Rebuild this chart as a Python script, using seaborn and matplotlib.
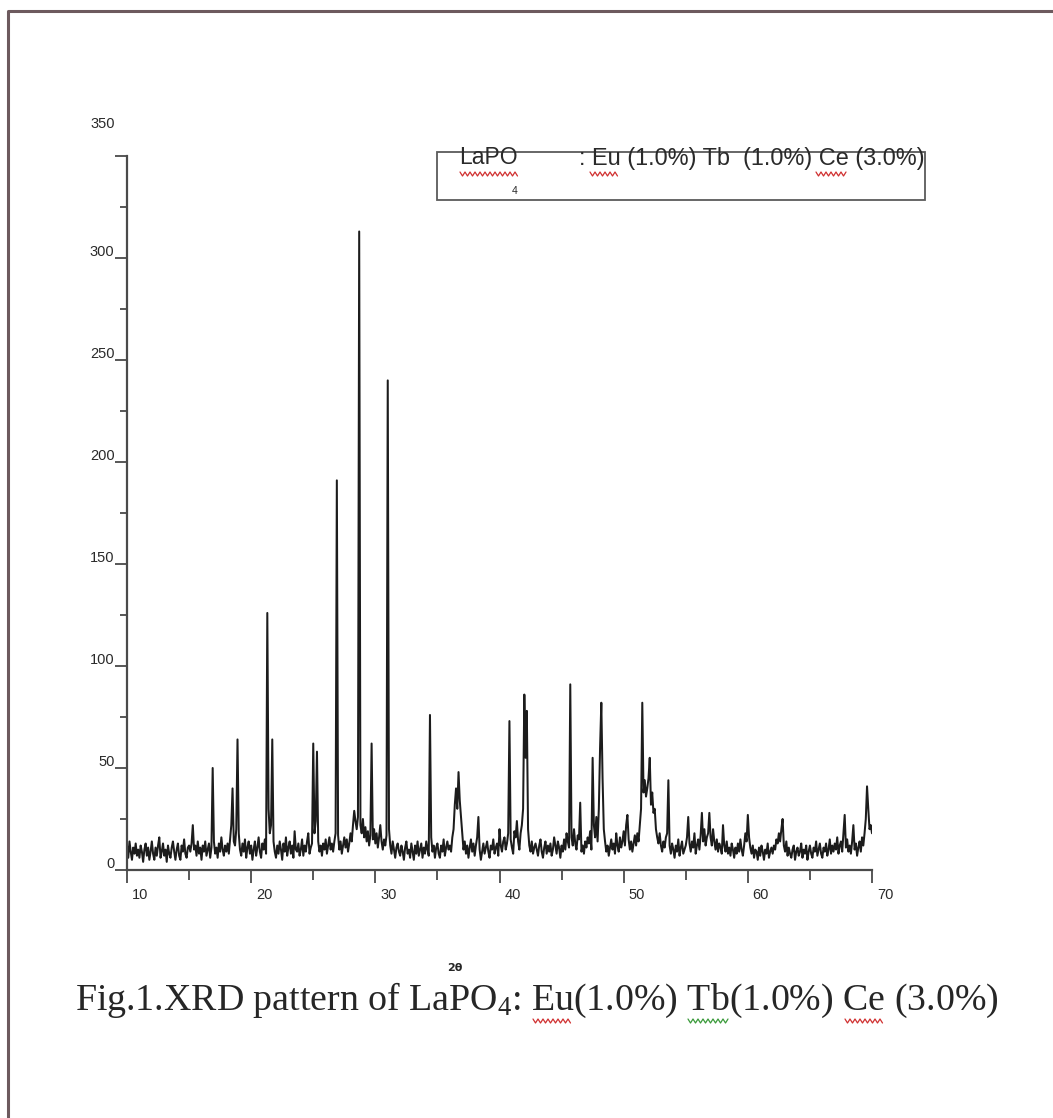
import numpy as np
import pandas as pd
import matplotlib
matplotlib.use("Agg")
import matplotlib.pyplot as plt
import matplotlib.transforms as mtransforms
from matplotlib.lines import Line2D
from matplotlib.patches import Rectangle
import seaborn as sns

# ---------------- data ----------------
scan_start = 10.0
scan_step = 0.1
# intensity, one row per degree (2theta = 10.0 ... 69.9), plus the last point at 70.0
intensity_rows = [
    [12, 6, 14, 9, 5, 11, 8, 13, 7, 10],        # 10
    [6, 12, 9, 4, 10, 13, 7, 11, 5, 9],         # 11
    [14, 8, 5, 11, 7, 12, 16, 6, 9, 13],        # 12
    [7, 10, 4, 12, 8, 6, 11, 14, 9, 5],         # 13
    [10, 13, 7, 5, 12, 9, 15, 8, 6, 11],        # 14
    [12, 9, 13, 22, 10, 12, 7, 14, 8, 11],      # 15
    [5, 12, 9, 14, 7, 10, 13, 6, 11, 50],       # 16
    [14, 8, 11, 6, 13, 9, 16, 10, 7, 12],       # 17
    [9, 13, 8, 15, 22, 40, 14, 12, 20, 64],     # 18
    [18, 10, 7, 13, 9, 15, 6, 11, 14, 8],       # 19
    [12, 5, 10, 14, 7, 11, 16, 9, 6, 13],       # 20
    [10, 15, 8, 126, 30, 18, 22, 64, 14, 9],    # 21
    [6, 12, 8, 14, 10, 5, 13, 9, 16, 7],        # 22
    [11, 14, 8, 12, 6, 19, 10, 9, 13, 7],       # 23
    [10, 15, 7, 12, 9, 14, 18, 8, 11, 13],      # 24
    [62, 18, 24, 58, 14, 9, 12, 7, 13, 10],     # 25
    [15, 8, 12, 16, 10, 13, 9, 14, 18, 191],    # 26
    [17, 10, 14, 8, 12, 16, 11, 15, 9, 13],     # 27
    [18, 14, 22, 29, 24, 20, 26, 313, 22, 18],  # 28
    [25, 16, 21, 14, 19, 12, 17, 62, 15, 20],   # 29
    [13, 18, 11, 16, 22, 14, 10, 15, 12, 17],   # 30
    [240, 20, 12, 8, 14, 10, 6, 11, 13, 9],     # 31
    [7, 12, 9, 5, 11, 14, 8, 10, 6, 13],        # 32
    [9, 5, 12, 8, 14, 7, 10, 13, 6, 11],        # 33
    [8, 14, 10, 7, 76, 16, 9, 12, 6, 11],       # 34
    [13, 8, 6, 12, 9, 15, 7, 11, 14, 10],       # 35
    [12, 9, 16, 20, 32, 40, 30, 48, 34, 26],    # 36
    [18, 10, 14, 8, 12, 6, 11, 15, 9, 13],      # 37
    [7, 12, 16, 26, 10, 5, 9, 13, 8, 11],       # 38
    [14, 9, 6, 12, 10, 15, 8, 11, 13, 7],       # 39
    [20, 12, 9, 14, 16, 10, 13, 18, 73, 15],    # 40
    [11, 8, 19, 16, 24, 14, 10, 18, 22, 30],    # 41
    [86, 55, 78, 20, 12, 9, 14, 8, 11, 13],     # 42
    [10, 7, 12, 15, 9, 6, 11, 14, 8, 12],       # 43
    [9, 13, 7, 10, 16, 12, 8, 14, 11, 6],       # 44
    [12, 9, 15, 10, 18, 14, 11, 91, 16, 12],    # 45
    [20, 13, 10, 17, 15, 33, 9, 12, 8, 14],     # 46
    [11, 16, 13, 19, 10, 55, 22, 16, 26, 14],   # 47
    [30, 60, 82, 45, 20, 14, 9, 12, 7, 11],     # 48
    [15, 10, 13, 8, 18, 12, 9, 16, 11, 14],     # 49
    [19, 12, 22, 27, 15, 10, 14, 9, 13, 17],    # 50
    [12, 18, 14, 22, 30, 82, 38, 44, 36, 40],   # 51
    [45, 55, 32, 38, 28, 30, 20, 16, 13, 18],   # 52
    [12, 9, 14, 11, 16, 18, 44, 12, 8, 13],     # 53
    [10, 6, 12, 9, 15, 7, 11, 14, 8, 10],       # 54
    [12, 16, 26, 13, 9, 14, 11, 18, 8, 12],     # 55
    [15, 10, 17, 28, 14, 20, 12, 16, 18, 28],   # 56
    [16, 12, 20, 14, 10, 15, 9, 13, 11, 8],     # 57
    [22, 12, 9, 14, 8, 11, 7, 13, 10, 6],       # 58
    [11, 8, 13, 9, 15, 10, 7, 12, 18, 14],      # 59
    [27, 16, 11, 8, 12, 6, 10, 9, 5, 11],       # 60
    [7, 12, 9, 5, 10, 8, 13, 6, 9, 11],         # 61
    [8, 12, 10, 15, 13, 18, 14, 20, 25, 12],    # 62
    [9, 14, 7, 11, 8, 6, 10, 12, 5, 9],         # 63
    [11, 7, 9, 13, 6, 10, 8, 12, 5, 9],         # 64
    [12, 8, 6, 11, 9, 14, 7, 10, 13, 8],        # 65
    [6, 11, 9, 13, 7, 10, 15, 8, 12, 9],        # 66
    [13, 10, 16, 8, 12, 14, 9, 18, 27, 11],     # 67
    [15, 9, 12, 8, 14, 22, 10, 13, 7, 11],      # 68
    [14, 9, 16, 12, 18, 25, 41, 30, 20, 22],    # 69
]
intensity_last = [18]                            # 70.0

y_ticks = [0, 50, 100, 150, 200, 250, 300, 350]
y_tick_labels = ["0", "50", "100", "150", "200", "250", "300", "350"]
x_ticks = [10, 20, 30, 40, 50, 60, 70]
x_tick_labels = ["10", "20", "30", "40", "50", "60", "70"]
legend_name = "LaPO"
legend_sub = "4"
legend_rest = ": Eu (1.0%) Tb  (1.0%) Ce (3.0%)"
x_label = "2θ"
caption = "Fig.1.XRD pattern of LaPO$_4$: Eu(1.0%) Tb(1.0%) Ce (3.0%)"

# ---------------- build table ----------------
intensity = [v for row in intensity_rows for v in row] + intensity_last
two_theta = np.round(scan_start + scan_step * np.arange(len(intensity)), 1)
df = pd.DataFrame({"two_theta": two_theta, "intensity": intensity})

# ---------------- style ----------------
sns.set_style("ticks")
narrow = ["Liberation Sans Narrow", "Liberation Sans", "DejaVu Sans"]
plt.rcParams["font.family"] = narrow
plt.rcParams["mathtext.fontset"] = "custom"
plt.rcParams["mathtext.rm"] = "Liberation Serif"
plt.rcParams["mathtext.it"] = "Liberation Serif:italic"

W, H, DPI = 1053, 1118, 100
fig = plt.figure(figsize=(W / DPI, H / DPI), dpi=DPI, facecolor="white")


def fx(px):
    return px / W


def fy(py):
    return 1 - py / H


ax = fig.add_axes([fx(127), fy(870), fx(872) - fx(127), fy(156) - fy(870)])
ax.set_facecolor("white")

sns.lineplot(data=df, x="two_theta", y="intensity", ax=ax, color="#1c1c1c",
             linewidth=1.45, estimator=None, sort=False)

ax.set_xlim(10, 70)
ax.set_ylim(0, 350)
sns.despine(ax=ax, top=True, right=True)
axis_col = "#4a4a4a"
for s in ("left", "bottom"):
    ax.spines[s].set_color(axis_col)
    ax.spines[s].set_linewidth(1.6)

ax.set_xticks(x_ticks)
ax.set_xticklabels(x_tick_labels)
ax.set_xticks([15, 25, 35, 45, 55, 65], minor=True)
ax.set_yticks(y_ticks)
ax.set_yticklabels(y_tick_labels)
ax.set_yticks([25, 75, 125, 175, 225, 275, 325], minor=True)
ax.tick_params(axis="both", which="both", direction="out", color=axis_col,
               width=1.3, labelsize=10.5, labelcolor="#2a2a2a")
ax.tick_params(axis="x", which="major", length=9, pad=4)
ax.tick_params(axis="x", which="minor", length=7)
ax.tick_params(axis="y", which="major", length=9, pad=0)
ax.tick_params(axis="y", which="minor", length=5)

# tick-label offsets as in the picture
for lab in ax.get_xticklabels():
    lab.set_transform(lab.get_transform() +
                      mtransforms.ScaledTranslation(13 / DPI, 0, fig.dpi_scale_trans))
for lab in ax.get_yticklabels():
    dy = 34 if lab.get_text() == "350" else 7
    lab.set_transform(lab.get_transform() +
                      mtransforms.ScaledTranslation(0, dy / DPI, fig.dpi_scale_trans))

ax.set_xlabel(x_label, fontsize=8, fontweight="bold", family=["DejaVu Sans"])
ax.set_ylabel("")
ax.xaxis.set_label_coords((455 - 127) / 745, (870 - 963) / 714)

# ---------------- legend box ----------------
fig.add_artist(Rectangle((fx(437), fy(200)), fx(925) - fx(437), fy(152) - fy(200),
                         transform=fig.transFigure, fill=False,
                         edgecolor="#5a5a5a", linewidth=1.3))
legend_font = ["Liberation Sans", "DejaVu Sans"]
fig.text(fx(459), fy(158), legend_name, fontsize=16.5, va="center", ha="left",
         color="#2a2a2a", family=legend_font)
fig.text(fx(512), fy(191), legend_sub, fontsize=7.5, va="center", ha="left",
         color="#2a2a2a", family=legend_font)
fig.text(fx(579), fy(158), legend_rest, fontsize=16.9, va="center", ha="left",
         color="#2a2a2a", family=legend_font)

# ---------------- caption ----------------
fig.text(fx(75), fy(1000), caption, fontsize=27.3, va="center", ha="left",
         color="#262626", family=["Liberation Serif", "DejaVu Serif"])


# spell-check squiggles (decoration of the screenshot)
def squiggle(x0, x1, y, color, amp=2.0, period=5.0):
    xs, ys, k = [], [], 0
    x = x0
    while x <= x1:
        xs.append(fx(x))
        ys.append(fy(y + (amp if k % 2 else -amp)))
        x += period / 2
        k += 1
    fig.add_artist(Line2D(xs, ys, transform=fig.transFigure, color=color, lw=0.9))


squiggle(460, 518, 174, "#d03030")
squiggle(590, 619, 174, "#d03030")
squiggle(816, 846, 174, "#d03030")
squiggle(533, 572, 1021, "#d03030")
squiggle(688, 728, 1021, "#3a9a3a")
squiggle(845, 884, 1021, "#d03030")

# ---------------- outer frame ----------------
fig.add_artist(Line2D([fx(8), fx(8), fx(1053)], [fy(1118), fy(11), fy(11)],
                      transform=fig.transFigure, color="#6d5a5e", lw=2.2))

fig.savefig("out.png", dpi=DPI, facecolor="white")
